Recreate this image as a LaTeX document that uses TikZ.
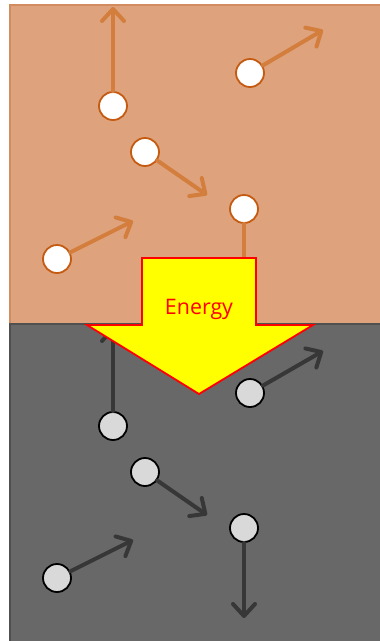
\documentclass[tikz,border=0pt]{standalone}
\usepackage{fontspec}
\newfontfamily\energyfont{Open Sans}
\usetikzlibrary{arrows.meta}
\definecolor{warmbg}{RGB}{222,163,124}
\definecolor{warmedge}{RGB}{210,140,95}
\definecolor{warmarrow}{RGB}{212,126,62}
\definecolor{warmring}{RGB}{197,90,17}
\definecolor{coldbg}{RGB}{104,104,104}
\definecolor{coldedge}{RGB}{80,80,80}
\definecolor{coldarrow}{RGB}{55,55,55}
\definecolor{coldfill}{RGB}{217,217,217}
\definecolor{energyfill}{RGB}{255,255,0}
\definecolor{energyred}{RGB}{255,0,0}
\tikzset{
  hotball/.style={circle,draw=warmring,fill=white,line width=1.8pt,minimum size=28pt,inner sep=0pt},
  coldball/.style={circle,draw=black,fill=coldfill,line width=1.8pt,minimum size=28pt,inner sep=0pt},
  hotarrow/.style={draw=warmarrow,line width=4pt,line cap=round,-{Straight Barb[length=12pt,width=22pt,round]}},
  coldarrow/.style={draw=coldarrow,line width=4pt,line cap=round,-{Straight Barb[length=12pt,width=22pt,round]}},
}
\begin{document}
\begin{tikzpicture}[x=1pt,y=-1pt]
\useasboundingbox (0,0) rectangle (380,641);
\clip (0,0) rectangle (380,641);
% backgrounds
\fill[white] (0,0) rectangle (380,641);
\draw[fill=warmbg,draw=warmedge,line width=1.2pt] (10,5) rectangle (390,324);
\draw[fill=coldbg,draw=coldedge,line width=1.2pt] (10,324) rectangle (390,650);
% hot particles
\node[hotball] (h1) at (113,106) {};
\node[hotball] (h2) at (250,73) {};
\node[hotball] (h3) at (145,152) {};
\node[hotball] (h4) at (244,209) {};
\node[hotball] (h5) at (57,259) {};
\coordinate (ht1) at (113,7);
\coordinate (ht2) at (323,30);
\coordinate (ht3) at (207,195);
\coordinate (ht4) at (244,299);
\coordinate (ht5) at (133,221);
\draw[hotarrow] (h1) -- (ht1);
\draw[hotarrow] (h2) -- (ht2);
\draw[hotarrow] (h3) -- (ht3);
\draw[hotarrow] (h4) -- (ht4);
\draw[hotarrow] (h5) -- (ht5);
% cold particles
\node[coldball] (c1) at (113,426) {};
\node[coldball] (c2) at (250,393) {};
\node[coldball] (c3) at (145,472) {};
\node[coldball] (c4) at (244,528) {};
\node[coldball] (c5) at (57,578) {};
\coordinate (ct1) at (113,327);
\coordinate (ct2) at (323,351);
\coordinate (ct3) at (207,515);
\coordinate (ct4) at (244,618);
\coordinate (ct5) at (133,540);
\draw[coldarrow] (c1) -- (ct1);
\draw[coldarrow] (c2) -- (ct2);
\draw[coldarrow] (c3) -- (ct3);
\draw[coldarrow] (c4) -- (ct4);
\draw[coldarrow] (c5) -- (ct5);
% energy arrow
\draw[fill=energyfill,draw=energyred,line width=1.8pt,line join=miter]
  (142,258) -- (256,258) -- (256,325) -- (313,325) -- (199,394) -- (87,325) -- (142,325) -- cycle;
\node[text=energyred,inner sep=0pt] (energy) at (199,309) {\resizebox{68pt}{!}{\energyfont Energy}};
\end{tikzpicture}
\end{document}
